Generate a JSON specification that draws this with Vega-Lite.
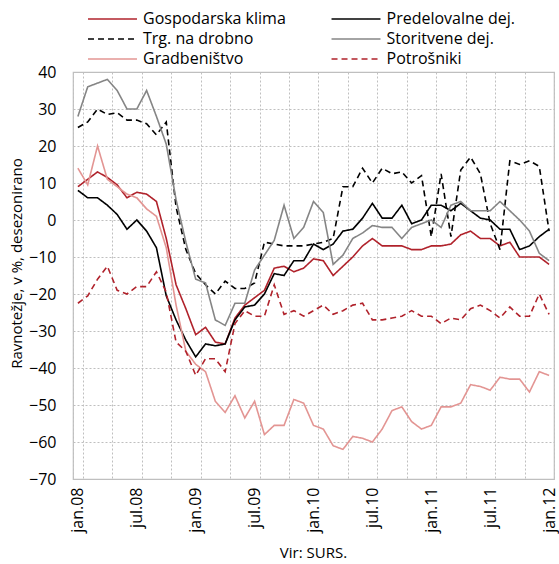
{
  "$schema": "https://vega.github.io/schema/vega-lite/v6.json",
  "width": 481,
  "height": 407,
  "autosize": {"type": "none"},
  "padding": {"left": 73, "top": 72, "right": 5, "bottom": 85},
  "background": "white",
  "config": {
    "font": "Open Sans",
    "view": {"stroke": "#BFBFBF", "strokeWidth": 1.2},
    "axis": {"labelColor": "#000", "titleColor": "#000", "titleFontWeight": "normal", "labelFontSize": 16, "titleFontSize": 15}
  },
  "data": {
    "values": [
      {"m": "jan.08", "klima": 9, "predel": 8, "trg": 25, "stor": 28, "grad": 14, "potr": -22.5},
      {"m": "feb.08", "klima": 11, "predel": 6, "trg": 26.5, "stor": 36, "grad": 9.5, "potr": -20.5},
      {"m": "mar.08", "klima": 13, "predel": 6, "trg": 30, "stor": 37, "grad": 20, "potr": -16},
      {"m": "apr.08", "klima": 11.5, "predel": 4, "trg": 28.5, "stor": 38, "grad": 11, "potr": -12.5},
      {"m": "maj.08", "klima": 9.5, "predel": 1.5, "trg": 29, "stor": 35, "grad": 9, "potr": -19},
      {"m": "jun.08", "klima": 6, "predel": -2.5, "trg": 27, "stor": 30, "grad": 7, "potr": -20},
      {"m": "jul.08", "klima": 7.5, "predel": 0, "trg": 27, "stor": 30, "grad": 6, "potr": -18},
      {"m": "avg.08", "klima": 7, "predel": -3, "trg": 26, "stor": 35, "grad": 3, "potr": -18},
      {"m": "sep.08", "klima": 5, "predel": -7.5, "trg": 23, "stor": 28, "grad": 1, "potr": -14},
      {"m": "okt.08", "klima": -5, "predel": -20.5, "trg": 26.5, "stor": 20.5, "grad": -7.5, "potr": -19.5},
      {"m": "nov.08", "klima": -17.5, "predel": -27, "trg": 3.5, "stor": 5.5, "grad": -23, "potr": -33},
      {"m": "dec.08", "klima": -24, "predel": -32.5, "trg": -8, "stor": -6, "grad": -35.5, "potr": -35.5},
      {"m": "jan.09", "klima": -31, "predel": -37, "trg": -14.5, "stor": -16, "grad": -39, "potr": -42},
      {"m": "feb.09", "klima": -29, "predel": -33.5, "trg": -17.5, "stor": -17, "grad": -41, "potr": -37.5},
      {"m": "mar.09", "klima": -33, "predel": -34, "trg": -20, "stor": -27, "grad": -49, "potr": -37.5},
      {"m": "apr.09", "klima": -33.5, "predel": -33.5, "trg": -16.5, "stor": -28.5, "grad": -52, "potr": -41},
      {"m": "maj.09", "klima": -26.5, "predel": -27, "trg": -18.5, "stor": -22.5, "grad": -47.5, "potr": -28},
      {"m": "jun.09", "klima": -23, "predel": -23.5, "trg": -18.5, "stor": -22.5, "grad": -53.5, "potr": -24.5},
      {"m": "jul.09", "klima": -21, "predel": -23, "trg": -17, "stor": -13.5, "grad": -49, "potr": -26},
      {"m": "avg.09", "klima": -19, "predel": -20, "trg": -6, "stor": -9.5, "grad": -58, "potr": -26},
      {"m": "sep.09", "klima": -13, "predel": -14.5, "trg": -6.5, "stor": -5.5, "grad": -55.5, "potr": -17.5},
      {"m": "okt.09", "klima": -12.5, "predel": -15, "trg": -7, "stor": 4, "grad": -55.5, "potr": -25.5},
      {"m": "nov.09", "klima": -14, "predel": -11, "trg": -7, "stor": -5, "grad": -48.5, "potr": -24.5},
      {"m": "dec.09", "klima": -13, "predel": -11, "trg": -7, "stor": -2, "grad": -49.5, "potr": -26},
      {"m": "jan.10", "klima": -10.5, "predel": -6.5, "trg": -6.5, "stor": 5, "grad": -55.5, "potr": -24.5},
      {"m": "feb.10", "klima": -11, "predel": -8, "trg": -6, "stor": 2, "grad": -56.5, "potr": -23},
      {"m": "mar.10", "klima": -15, "predel": -6.5, "trg": -5, "stor": -12, "grad": -61, "potr": -25.5},
      {"m": "apr.10", "klima": -12.5, "predel": -3, "trg": 9, "stor": -9.5, "grad": -62, "potr": -24.5},
      {"m": "maj.10", "klima": -10, "predel": -2.5, "trg": 9, "stor": -5, "grad": -58.5, "potr": -23},
      {"m": "jun.10", "klima": -7, "predel": 0.5, "trg": 14, "stor": -3.5, "grad": -59, "potr": -22.5},
      {"m": "jul.10", "klima": -5, "predel": 4.5, "trg": 10, "stor": -1.5, "grad": -60, "potr": -27},
      {"m": "avg.10", "klima": -7, "predel": 0.5, "trg": 14, "stor": -2, "grad": -56.5, "potr": -27},
      {"m": "sep.10", "klima": -7, "predel": 0.5, "trg": 12.5, "stor": -2, "grad": -51.5, "potr": -26.5},
      {"m": "okt.10", "klima": -7, "predel": 4, "trg": 13, "stor": -5, "grad": -50.5, "potr": -26},
      {"m": "nov.10", "klima": -8, "predel": -1, "trg": 10, "stor": -2, "grad": -54.5, "potr": -24.5},
      {"m": "dec.10", "klima": -8, "predel": 0, "trg": 12, "stor": -1, "grad": -56.5, "potr": -26},
      {"m": "jan.11", "klima": -7, "predel": 4, "trg": -4.5, "stor": 0, "grad": -55.5, "potr": -26},
      {"m": "feb.11", "klima": -7, "predel": 4, "trg": 12.5, "stor": -2, "grad": -50.5, "potr": -28},
      {"m": "mar.11", "klima": -6.5, "predel": 2.5, "trg": -4.5, "stor": 4, "grad": -50.5, "potr": -26.5},
      {"m": "apr.11", "klima": -4, "predel": 4.5, "trg": 13.5, "stor": 5, "grad": -49.5, "potr": -27},
      {"m": "maj.11", "klima": -3, "predel": 2.5, "trg": 17, "stor": 2.5, "grad": -44.5, "potr": -24},
      {"m": "jun.11", "klima": -5, "predel": 0.5, "trg": 12.5, "stor": 2.5, "grad": -45, "potr": -23},
      {"m": "jul.11", "klima": -5, "predel": 0, "trg": -1, "stor": 2.5, "grad": -46, "potr": -24.5},
      {"m": "avg.11", "klima": -7, "predel": -2.5, "trg": -8, "stor": 5, "grad": -42.5, "potr": -26.5},
      {"m": "sep.11", "klima": -6, "predel": -2.5, "trg": 16, "stor": 2.5, "grad": -43, "potr": -23.5},
      {"m": "okt.11", "klima": -10, "predel": -8, "trg": 15, "stor": 0, "grad": -43, "potr": -26},
      {"m": "nov.11", "klima": -10, "predel": -7, "trg": 16, "stor": -3, "grad": -46.5, "potr": -26},
      {"m": "dec.11", "klima": -10, "predel": -4.5, "trg": 14.5, "stor": -9, "grad": -41, "potr": -20},
      {"m": "jan.12", "klima": -12, "predel": -2.5, "trg": -3, "stor": -11, "grad": -42, "potr": -25.5}
    ]
  },
  "encoding": {
    "x": {
      "field": "m",
      "type": "ordinal",
      "sort": null,
      "scale": {"type": "band", "paddingInner": 0, "paddingOuter": 0},
      "axis": {
        "title": "Vir: SURS.",
        "values": ["jan.08","apr.08","jul.08","okt.08","jan.09","apr.09","jul.09","okt.09","jan.10","apr.10","jul.10","okt.10","jan.11","apr.11","jul.11","okt.11","jan.12"],
        "labelExpr": "slice(datum.label,0,3)=='jan' || slice(datum.label,0,3)=='jul' ? datum.label : ''",
        "tickBand": "extent",
        "labelAngle": 270,
        "labelPadding": 8,
        "ticks": false,
        "domain": false,
        "grid": true,
        "gridColor": "#BFBFBF",
        "gridDash": [2, 2],
        "gridWidth": 1,
        "titleX": 240,
        "titleY": 73,
        "titleAlign": "center",
        "titleBaseline": "middle"
      }
    },
    "y": {
      "field": "v",
      "type": "quantitative",
      "scale": {"domain": [-70, 40], "nice": false, "zero": false},
      "axis": {
        "title": "Ravnotežje, v %, desezonirano",
        "values": [-70, -60, -50, -40, -30, -20, -10, 0, 10, 20, 30, 40],
        "ticks": false,
        "domain": false,
        "labelPadding": 17,
        "grid": true,
        "gridColor": "#BFBFBF",
        "gridDash": [2, 2],
        "gridWidth": 1,
        "titleX": -57,
        "titleY": 191,
        "titleAlign": "center",
        "titleBaseline": "middle"
      }
    }
  },
  "layer": [
    {
      "mark": {"type": "rule", "color": "#BFBFBF", "strokeWidth": 2.5},
      "encoding": {"y": {"datum": 0}, "x": null}
    },
    {
      "transform": [{"fold": ["klima", "predel", "trg", "stor", "grad", "potr"], "as": ["s", "v"]}],
      "mark": {"type": "line", "strokeWidth": 1.6},
      "encoding": {
        "color": {
          "field": "s",
          "type": "nominal",
          "scale": {
            "domain": ["klima", "predel", "trg", "stor", "grad", "potr"],
            "range": ["#B0222B", "#000000", "#000000", "#858585", "#E39593", "#B0222B"]
          },
          "legend": {
            "title": null,
            "orient": "none",
            "direction": "horizontal",
            "legendX": 29.5,
            "legendY": -63,
            "columns": 2,
            "symbolType": "M-2.72,0H2.72",
            "symbolSize": 324,
            "symbolStrokeWidth": 1.6,
            "labelFontSize": 16,
            "labelOffset": 20.5,
            "columnPadding": 41.5,
            "rowPadding": 2,
            "labelExpr": "datum.label=='klima' ? 'Gospodarska klima' : datum.label=='predel' ? 'Predelovalne dej.' : datum.label=='trg' ? 'Trg. na drobno' : datum.label=='stor' ? 'Storitvene dej.' : datum.label=='grad' ? 'Gradbeništvo' : 'Potrošniki'"
          }
        },
        "strokeDash": {
          "field": "s",
          "type": "nominal",
          "scale": {
            "domain": ["klima", "predel", "trg", "stor", "grad", "potr"],
            "range": [[1, 0], [1, 0], [6, 4], [1, 0], [1, 0], [6, 4]]
          },
          "legend": {
            "title": null,
            "orient": "none",
            "direction": "horizontal",
            "legendX": 29.5,
            "legendY": -63,
            "columns": 2,
            "symbolType": "M-2.72,0H2.72",
            "symbolSize": 324,
            "symbolStrokeWidth": 1.6,
            "labelFontSize": 16,
            "labelOffset": 20.5,
            "columnPadding": 41.5,
            "rowPadding": 2,
            "labelExpr": "datum.label=='klima' ? 'Gospodarska klima' : datum.label=='predel' ? 'Predelovalne dej.' : datum.label=='trg' ? 'Trg. na drobno' : datum.label=='stor' ? 'Storitvene dej.' : datum.label=='grad' ? 'Gradbeništvo' : 'Potrošniki'"
          }
        }
      }
    }
  ]
}
